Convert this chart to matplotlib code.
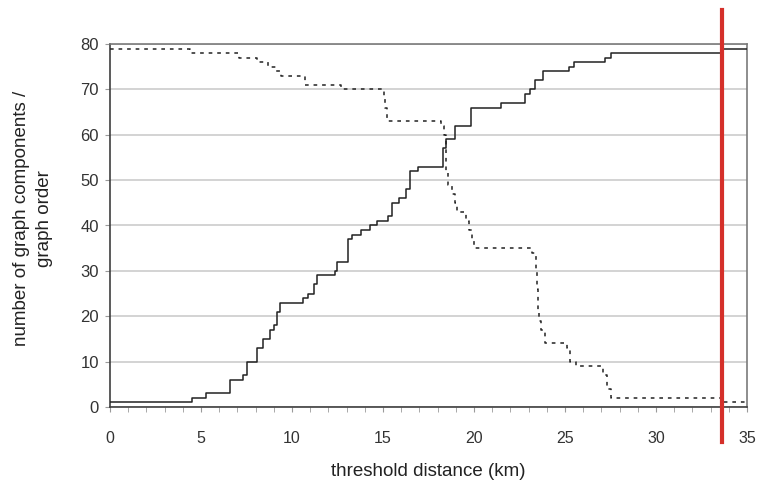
import matplotlib
matplotlib.use("Agg")
import matplotlib.pyplot as plt
from matplotlib.ticker import MultipleLocator

plt.rcParams['font.family'] = ['Liberation Sans', 'DejaVu Sans']

# graph order (size of the largest component) vs threshold distance
order_km = [0, 4.5, 5.3, 6.6, 7.3, 7.5, 8.05, 8.4, 8.8, 9.0,
            9.15, 9.35, 10.6, 10.9, 11.2, 11.4, 12.35, 12.45, 13.1, 13.3,
            13.8, 14.3, 14.65, 15.3, 15.5, 15.9, 16.25, 16.5, 16.9, 18.3,
            18.45, 18.95, 19.85, 21.5, 22.8, 23.1, 23.35, 23.8, 25.2, 25.5,
            27.2, 27.5, 33.6, 35]
order_val = [1, 2, 3, 6, 7, 10, 13, 15, 17, 18,
             21, 23, 24, 25, 27, 29, 30, 32, 37, 38,
             39, 40, 41, 42, 45, 46, 48, 52, 53, 57,
             59, 62, 66, 67, 69, 70, 72, 74, 75, 76,
             77, 78, 79, 79]

# number of graph components vs threshold distance
comp_km = [0, 4.4, 7.1, 8.1, 8.7, 9.1, 9.4, 10.7, 12.7, 15.05,
           15.1, 15.2, 18.2, 18.35, 18.45, 18.55, 18.8, 18.95, 19.05, 19.55,
           19.75, 19.9, 20.0, 23.2, 23.4, 23.45, 23.5, 23.55, 23.7, 23.9,
           25.1, 25.3, 25.6, 27.1, 27.3, 27.5, 33.6, 35]
comp_val = [79, 78, 77, 76, 75, 74, 73, 71, 70, 68,
            66, 63, 62, 60, 52, 49, 47, 45, 43, 41,
            39, 37, 35, 34, 30, 26, 21, 19, 17, 14,
            13, 10, 9, 7, 4, 2, 1, 1]

connect_km = 33.6  # distance where the graph becomes connected

fig = plt.figure(figsize=(7.57, 4.83), dpi=100)
ax = fig.add_axes([110 / 757, 1 - 407 / 483, 637 / 757, 363 / 483])

ax.step(comp_km, comp_val, where='post', color='#222222', lw=1.1,
        linestyle=(0, (2.4, 3.2)), zorder=3)
ax.step(order_km, order_val, where='post', color='#222222', lw=1.1, zorder=4)

ax.axvline(connect_km, ymin=-0.096, ymax=1.094, color='#d5302a', lw=3,
           clip_on=False, zorder=5)

ax.set_xlim(0, 35)
ax.set_ylim(0, 80)
ax.xaxis.set_major_locator(MultipleLocator(5))
ax.xaxis.set_minor_locator(MultipleLocator(1))
ax.yaxis.set_major_locator(MultipleLocator(10))

ax.grid(axis='y', color='#c8c8c8', lw=1.1, zorder=0)
ax.set_axisbelow(True)

for side in ['left', 'bottom']:
    ax.spines[side].set_color('#404040')
    ax.spines[side].set_linewidth(1.2)
for side in ['top', 'right']:
    ax.spines[side].set_color('#7a7a7a')
    ax.spines[side].set_linewidth(1.2)

ax.tick_params(axis='x', which='both', direction='out', length=3.6,
               color='#9a9a9a', labelsize=11.5, labelcolor='#333333', pad=14)
ax.tick_params(axis='y', direction='out', length=3.6, color='#9a9a9a',
               labelsize=12, labelcolor='#333333', pad=4.5)

ax.set_xlabel('threshold distance (km)', fontsize=13.5, color='#222222')
ax.set_ylabel('number of graph components /\ngraph order', fontsize=13.5,
              color='#222222', linespacing=1.5)
ax.xaxis.set_label_coords(0.5, -0.155)
ax.yaxis.set_label_coords(-0.089, 0.52)

fig.savefig('out.png', dpi=100)
